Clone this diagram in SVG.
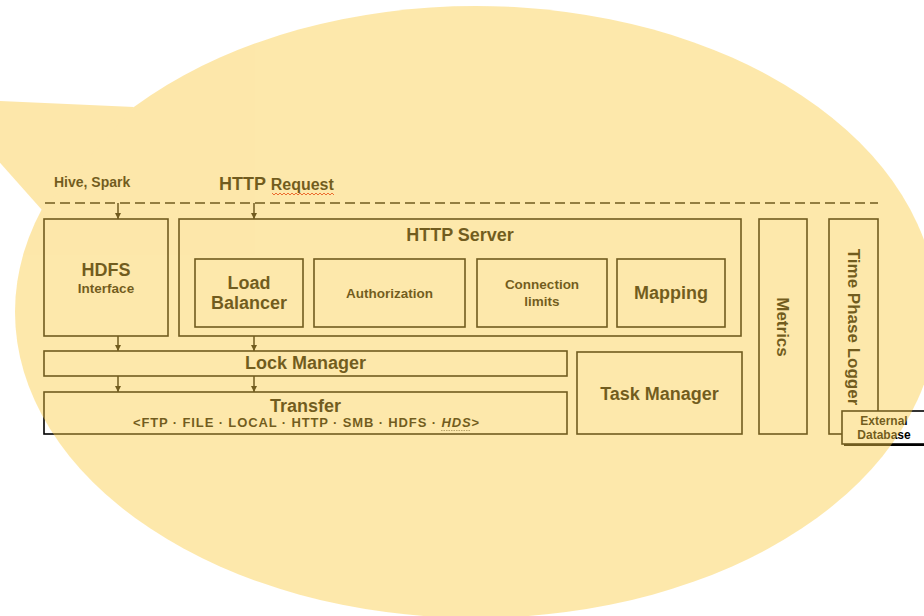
<svg xmlns="http://www.w3.org/2000/svg" width="924" height="616" viewBox="0 0 924 616">
<style>
.box{fill:#fff;stroke:#000;stroke-width:1.6}
.t{font-family:"Liberation Sans",Arial,sans-serif;font-weight:bold;fill:#000;text-anchor:middle}
.lbl{font-family:"Liberation Sans",Arial,sans-serif;font-weight:bold;fill:#000}
.conn{stroke:#000;stroke-width:1.5;fill:none}
</style>
<defs>
<marker id="ah" viewBox="0 0 10 10" refX="10" refY="5" markerWidth="6" markerHeight="6" orient="auto" markerUnits="userSpaceOnUse">
<path d="M0,0 L10,5 L0,10 z" fill="#000"/>
</marker>
</defs>
<rect width="924" height="616" fill="#fff"/>

<g id="labels">
<text class="lbl" x="54" y="187" font-size="14">Hive, Spark</text>
<text class="lbl" x="219" y="190" font-size="18">HTTP <tspan font-size="16">Request</tspan></text>
<polyline points="272,193 274,195 276,193 278,195 280,193 282,195 284,193 286,195 288,193 290,195 292,193 294,195 296,193 298,195 300,193 302,195 304,193 306,195 308,193 310,195 312,193 314,195 316,193 318,195 320,193 322,195 324,193 326,195 328,193 330,195 332,193 334,195" fill="none" stroke="#e02020" stroke-width="1"/>
</g>

<g id="connectors">
<line class="conn" x1="45" y1="203" x2="878" y2="203" stroke-dasharray="10,5" stroke-width="1.8"/>
<line class="conn" x1="118" y1="203" x2="118" y2="219" marker-end="url(#ah)"/>
<line class="conn" x1="254" y1="203" x2="254" y2="219" marker-end="url(#ah)"/>
<line class="conn" x1="118" y1="336" x2="118" y2="351" marker-end="url(#ah)"/>
<line class="conn" x1="254" y1="336" x2="254" y2="351" marker-end="url(#ah)"/>
<line class="conn" x1="118" y1="376" x2="118" y2="392" marker-end="url(#ah)"/>
<line class="conn" x1="254" y1="376" x2="254" y2="392" marker-end="url(#ah)"/>
</g>

<g id="hdfs-interface">
<rect class="box" x="44" y="219" width="124" height="117"/>
<text class="t" x="106" y="276" font-size="18">HDFS</text>
<text class="t" x="106" y="293" font-size="13.5">Interface</text>
</g>

<g id="http-server">
<rect class="box" x="179" y="219" width="562" height="117"/>
<text class="t" x="460" y="241" font-size="18">HTTP Server</text>
</g>

<g id="load-balancer">
<rect class="box" x="195" y="259" width="108" height="68"/>
<text class="t" x="249" y="289" font-size="18">Load</text>
<text class="t" x="249" y="309" font-size="18">Balancer</text>
</g>

<g id="authorization">
<rect class="box" x="314" y="259" width="151" height="68"/>
<text class="t" x="389.5" y="298" font-size="13.5">Authorization</text>
</g>

<g id="connection-limits">
<rect class="box" x="477" y="259" width="130" height="68"/>
<text class="t" x="542" y="289" font-size="13.5">Connection</text>
<text class="t" x="542" y="306" font-size="13.5">limits</text>
</g>

<g id="mapping">
<rect class="box" x="617" y="259" width="108" height="68"/>
<text class="t" x="671" y="299" font-size="18">Mapping</text>
</g>

<g id="lock-manager">
<rect class="box" x="44" y="351" width="523" height="25"/>
<text class="t" x="305.5" y="369" font-size="18">Lock Manager</text>
</g>

<g id="transfer">
<rect class="box" x="44" y="392" width="523" height="42"/>
<text class="t" x="305.5" y="412" font-size="18">Transfer</text>
<text class="t" x="306" y="427" font-size="13" textLength="346" lengthAdjust="spacing">&lt;FTP · FILE · LOCAL · HTTP · SMB · HDFS · <tspan font-style="italic">HDS</tspan>&gt;</text>
<line x1="441" y1="430.5" x2="470" y2="430.5" stroke="#888" stroke-width="1" stroke-dasharray="1.5,1"/>
</g>

<g id="task-manager">
<rect class="box" x="577" y="352" width="165" height="82"/>
<text class="t" x="659.5" y="400" font-size="18">Task Manager</text>
</g>

<g id="metrics">
<rect class="box" x="759" y="219" width="48" height="215"/>
<text class="t" transform="translate(783,327) rotate(90)" x="0" y="6" font-size="17">Metrics</text>
</g>

<g id="time-phase-logger">
<rect class="box" x="829" y="219" width="49" height="215"/>
<text class="t" transform="translate(853.5,327) rotate(90)" x="0" y="6" font-size="17">Time Phase Logger</text>
</g>

<g id="external-database">
<rect x="844" y="413" width="84" height="33" fill="#000"/>
<rect class="box" x="842" y="411" width="84" height="33"/>
<text class="t" x="884" y="425" font-size="12">External</text>
<text class="t" x="884" y="439" font-size="12">Database</text>
</g>

<g id="callout" opacity="0.45">
<ellipse cx="476" cy="312" rx="461" ry="306" fill="#FBCB45"/>
<polygon points="-57,98.4 134,107 42,210" fill="#FBCB45"/>
</g>
</svg>
